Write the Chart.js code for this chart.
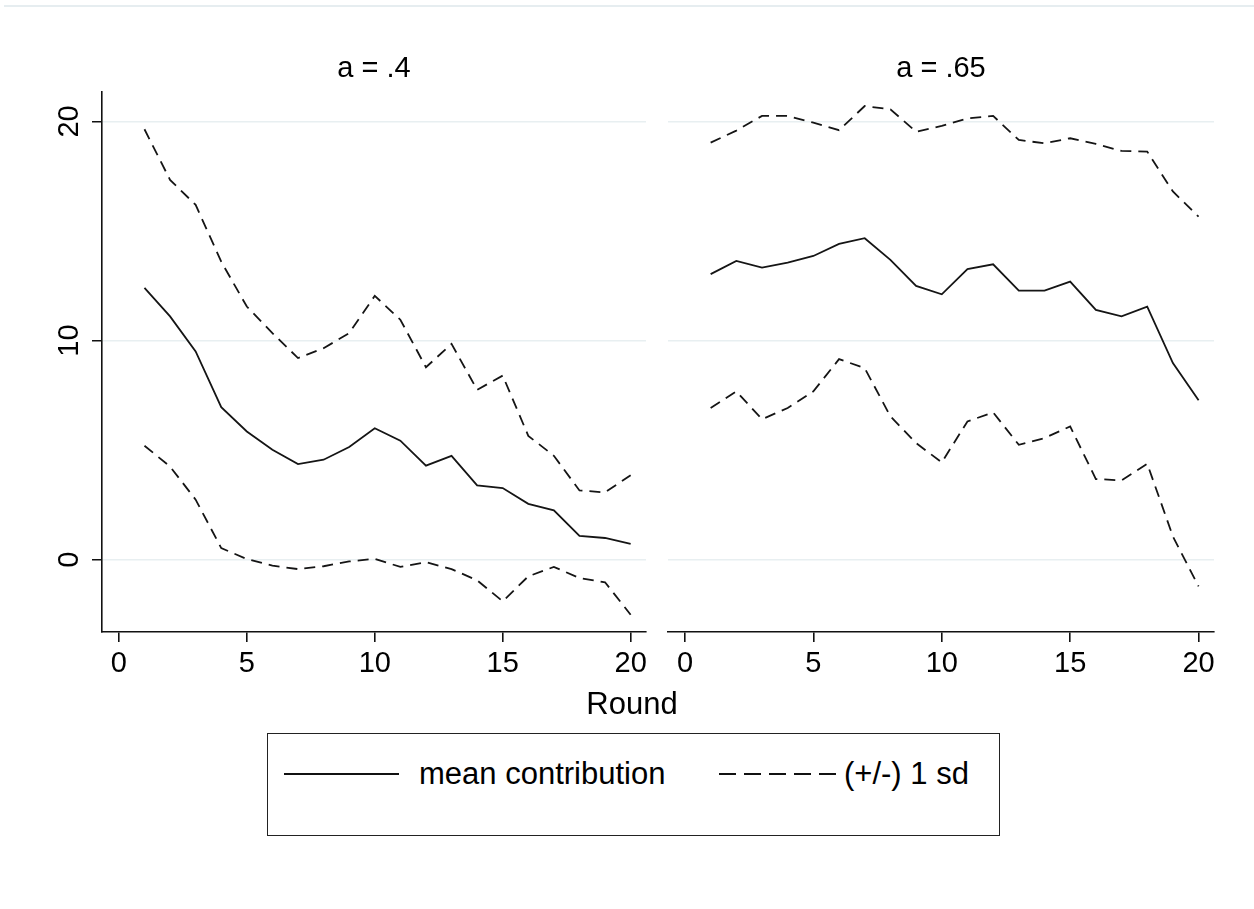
<!DOCTYPE html>
<html>
<head>
<meta charset="utf-8">
<script src="https://cdn.jsdelivr.net/npm/chart.js@4/dist/chart.umd.min.js"></script>
<style>
  body { margin: 0; background: #fff; font-family: "Liberation Sans", Arial, sans-serif; }
  #page { position: relative; width: 1254px; height: 909px; overflow: hidden; }
  #topline { position: absolute; left: 4px; top: 5px; width: 1250px; height: 2px; background: #e6edf0; }
  canvas { position: absolute; }
  #left { left: 0; top: 30px; }
  #right { left: 650px; top: 30px; }
  #xtitle { position: absolute; left: 532px; width: 200px; top: 686px; text-align: center; font-size: 31px; color: #000; }
  #legend { position: absolute; left: 267px; top: 733px; width: 731px; height: 101px; border: 1.5px solid #222; }
  #legend svg { position: absolute; left: 0; top: 0; }
  .lbl { position: absolute; top: 22px; font-size: 31px; color: #000; white-space: nowrap; }
</style>
</head>
<body>
<div id="page">
  <div id="topline"></div>
  <canvas id="left" width="660" height="662"></canvas>
  <canvas id="right" width="604" height="662"></canvas>
  <div id="xtitle">Round</div>
  <div id="legend">
    <svg width="731" height="101">
      <line x1="16" y1="40" x2="131" y2="40" stroke="#111" stroke-width="2"></line>
      <line x1="451" y1="40" x2="568" y2="40" stroke="#111" stroke-width="2" stroke-dasharray="17 8"></line>
    </svg>
    <div class="lbl" style="left:151px">mean contribution</div>
    <div class="lbl" style="left:576px">(+/-) 1 sd</div>
  </div>
</div>
<script>
"use strict"

const rounds = [1, 2, 3, 4, 5, 6, 7, 8, 9, 10, 11, 12, 13, 14, 15, 16, 17, 18, 19, 20];
const xTicks = [0, 5, 10, 15, 20];
const yTicks = [0, 10, 20];

// a = .4
const meanLow = [12.4, 11.1, 9.5, 6.96, 5.85, 5.02, 4.36, 4.56, 5.14, 6.0, 5.43, 4.29, 4.74, 3.39, 3.27, 2.55, 2.25, 1.09, 0.99, 0.72];
const upperLow = [19.64, 17.33, 16.19, 13.6, 11.55, 10.34, 9.2, 9.65, 10.34, 12.04, 10.95, 8.78, 9.85, 7.75, 8.4, 5.65, 4.74, 3.16, 3.07, 3.85];
const lowerLow = [5.2, 4.25, 2.74, 0.53, 0.03, -0.27, -0.43, -0.3, -0.08, 0.04, -0.33, -0.11, -0.43, -0.94, -1.9, -0.76, -0.33, -0.84, -1.03, -2.51];

// a = .65
const meanHigh = [13.03, 13.63, 13.33, 13.56, 13.86, 14.41, 14.67, 13.68, 12.49, 12.11, 13.26, 13.48, 12.28, 12.28, 12.69, 11.4, 11.1, 11.55, 8.97, 7.27];
const upperHigh = [19.03, 19.58, 20.25, 20.25, 19.94, 19.6, 20.7, 20.55, 19.53, 19.79, 20.14, 20.25, 19.15, 19.0, 19.23, 18.97, 18.65, 18.62, 16.8, 15.65];
const lowerHigh = [6.92, 7.68, 6.41, 6.92, 7.68, 9.15, 8.74, 6.54, 5.32, 4.44, 6.31, 6.72, 5.24, 5.55, 6.08, 3.68, 3.62, 4.38, 1.06, -1.22];

const panelTitles = ["a = .4", "a = .65"];

//////////    helpers    //////////

function toPoints(values) {
  return rounds.map((r, i) => ({ x: r, y: values[i] }));
}

function makeDatasets(mean, upper, lower) {
  const base = { borderColor: '#151515', borderWidth: 1.8, pointRadius: 0, fill: false, tension: 0 };
  return [
    Object.assign({ label: 'mean contribution', data: toPoints(mean) }, base),
    Object.assign({ label: '(+/-) 1 sd', data: toPoints(upper), borderDash: [11, 7] }, base),
    Object.assign({ label: '(+/-) 1 sd', data: toPoints(lower), borderDash: [11, 7] }, base)
  ];
}

// rotated y tick labels, stata style
const rotatedYLabels = {
  id: 'rotatedYLabels',
  afterDraw(chart, args, opts) {
    if (!opts.show) return;
    const ctx = chart.ctx;
    const scale = chart.scales.y;
    ctx.save();
    ctx.fillStyle = '#000';
    ctx.font = '29px "Liberation Sans", Arial, sans-serif';
    ctx.textAlign = 'center';
    ctx.textBaseline = 'middle';
    yTicks.forEach(v => {
      const py = scale.getPixelForValue(v);
      ctx.save();
      ctx.translate(70, py);
      ctx.rotate(-Math.PI / 2);
      ctx.fillText(String(v), 0, 0);
      ctx.restore();
    });
    ctx.restore();
  }
};

function makeChart(id, title, datasets, isLeft) {
  return new Chart(document.getElementById(id), {
    type: 'line',
    data: { datasets: datasets },
    options: {
      responsive: false,
      animation: false,
      devicePixelRatio: 1,
      layout: { padding: { left: 0, right: isLeft ? 14 : 40, top: 0, bottom: 0 } },
      plugins: {
        legend: { display: false },
        tooltip: { enabled: false },
        title: {
          display: true,
          text: title,
          fullSize: false,
          color: '#000',
          font: { size: 29, weight: 'normal', family: '"Liberation Sans", Arial, sans-serif', lineHeight: 1.2 },
          padding: { top: 22, bottom: 5 }
        },
        rotatedYLabels: { show: isLeft }
      },
      scales: {
        x: {
          type: 'linear',
          min: -0.66,
          max: 20.6,
          afterBuildTicks: scale => { scale.ticks = xTicks.map(v => ({ value: v })); },
          afterFit: scale => { scale.height = 60; },
          border: { display: true, color: '#111', width: 1.6 },
          grid: { drawOnChartArea: false, drawTicks: true, tickLength: 10, tickColor: '#111', lineWidth: 1.6 },
          ticks: { color: '#000', padding: 5, maxRotation: 0, font: { size: 29, family: '"Liberation Sans", Arial, sans-serif' } }
        },
        y: {
          type: 'linear',
          min: -3.3,
          max: 21.35,
          afterBuildTicks: scale => { scale.ticks = yTicks.map(v => ({ value: v })); },
          afterFit: scale => { scale.width = isLeft ? 102 : 18; },
          border: { display: isLeft, color: '#111', width: 1.6 },
          grid: {
            color: '#e8eff1',
            lineWidth: 1.5,
            drawTicks: isLeft,
            tickLength: 10,
            tickColor: '#111'
          },
          ticks: { display: false }
        }
      }
    },
    plugins: [rotatedYLabels]
  });
}

makeChart('left', panelTitles[0], makeDatasets(meanLow, upperLow, lowerLow), true);
makeChart('right', panelTitles[1], makeDatasets(meanHigh, upperHigh, lowerHigh), false);
</script>
</body>
</html>
